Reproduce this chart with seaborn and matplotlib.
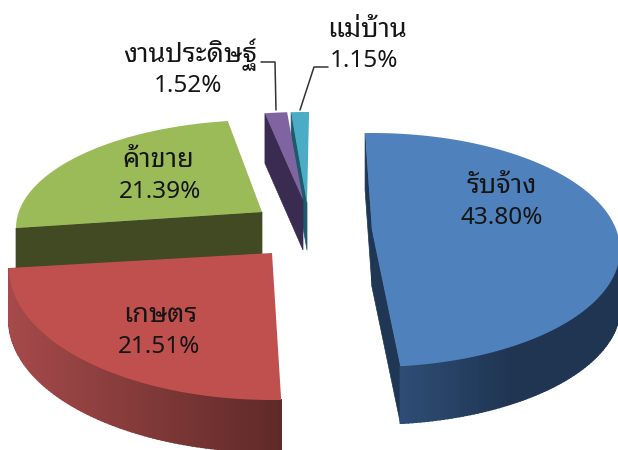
import numpy as np
import seaborn as sns
import matplotlib
matplotlib.use("Agg")
import matplotlib.pyplot as plt

sns.set_theme(style="white")
plt.rcParams['font.family'] = ['Noto Sans Thai Looped', 'DejaVu Sans']

# data
categories = ["รับจ้าง", "เกษตร", "ค้าขาย", "งานประดิษฐ์", "แม่บ้าน"]
shares = [43.80, 21.51, 21.39, 1.52, 1.15]

# how each exploded slice is placed on the page (pixels)
colors = ["#4f81bd", "#c0504d", "#9bbb59", "#8064a2", "#4bacc6"]
face_colors = ["#1f3654", "#5e2a28", "#414a22", "#392c50", "#1d5a6b"]
rim_colors = [["#2e4d75", "#1f3552", "#1f3552"], ["#a5494a", "#5e2a28"], ["#414a22"] * 2, ["#392c50"] * 2, ["#1d5a6b"] * 2]
apex = [(372, 230), (272, 253), (262, 212), (303, 200), (307, 203)]
center = [(372, 250), (272, 268), (262, 228), (303, 220), (307, 220)]
radii = [(248, 117), (263, 132), (246, 108), (246, 108), (246, 108)]
start_deg = [-1.6, 178, 270, 351.1, 356.3]
stretch = [1.11, 1.188, 1.065, 0.95, 1.01]
depth = [57, 52, 42, 50, 47]
cut_faces = [("start", "end"), (), ("start",), ("start",), ("start",)]
draw_order = [4, 3, 2, 0, 1]

name_pos = [(502, 193), (160, 322), (158, 167), (190, 62), (367, 37)]
value_pos = [(502, 224), (159, 353), (160, 198), (188, 92), (364, 67)]


def rim_point(i, theta):
    t = np.radians(theta)
    return (center[i][0] + radii[i][0] * np.sin(t), center[i][1] - radii[i][1] * np.cos(t))


fig = plt.figure(figsize=(6.18, 4.5), dpi=100)
ax = fig.add_axes([0, 0, 1, 1])
ax.set_xlim(0, 618)
ax.set_ylim(450, 0)
ax.axis("off")

for z, i in enumerate(draw_order):
    a0 = start_deg[i]
    a1 = a0 + shares[i] * 3.6 * stretch[i]
    d = depth[i]
    thetas = np.linspace(a0, a1, 120)
    arc = np.array([rim_point(i, t) for t in thetas])
    ax_, ay_ = apex[i]

    # cut sides of the slice
    for which in cut_faces[i]:
        p = arc[0] if which == "start" else arc[-1]
        ax.fill([p[0], ax_, ax_, p[0]], [p[1], ay_, ay_ + d, p[1] + d],
                color=face_colors[i], lw=0.5, zorder=z + 10)

    # outer wall, only the part that faces the viewer
    front = np.linspace(max(a0, 90), min(a1, 270), 90) if a1 > 90 and a0 < 270 else []
    if len(front) > 1:
        pts = np.array([rim_point(i, t) for t in front])
        pal = sns.blend_palette(rim_colors[i], 64)
        lo, hi = pts[:, 0].min(), pts[:, 0].max()
        for j in range(len(pts) - 1):
            x = [pts[j, 0], pts[j + 1, 0], pts[j + 1, 0], pts[j, 0]]
            y = [pts[j, 1], pts[j + 1, 1], pts[j + 1, 1] + d, pts[j, 1] + d]
            u = (pts[j, 0] - lo) / (hi - lo)
            ax.fill(x, y, color=pal[int(u * 63)], lw=1.2, zorder=z + 10)

    # top of the slice
    ax.fill(np.r_[ax_, arc[:, 0]], np.r_[ay_, arc[:, 1]], color=colors[i], lw=0, zorder=z + 10.5)

# leader lines for the two small slices
ax.plot([261, 275, 276], [62, 62, 110], color="#333333", lw=1.1, zorder=30)
ax.plot([328, 314, 300], [67, 67, 110], color="#333333", lw=1.1, zorder=30)

for name, val, np_, vp in zip(categories, shares, name_pos, value_pos):
    ax.text(np_[0], np_[1], name, ha="center", va="baseline", fontsize=19.5,
            color="#151515", weight="semibold", zorder=40)
    ax.text(vp[0], vp[1], f"{val:.2f}%", ha="center", va="baseline", fontsize=17.5,
            color="#151515", weight="semibold", zorder=40)

fig.savefig("out.png", dpi=100)
